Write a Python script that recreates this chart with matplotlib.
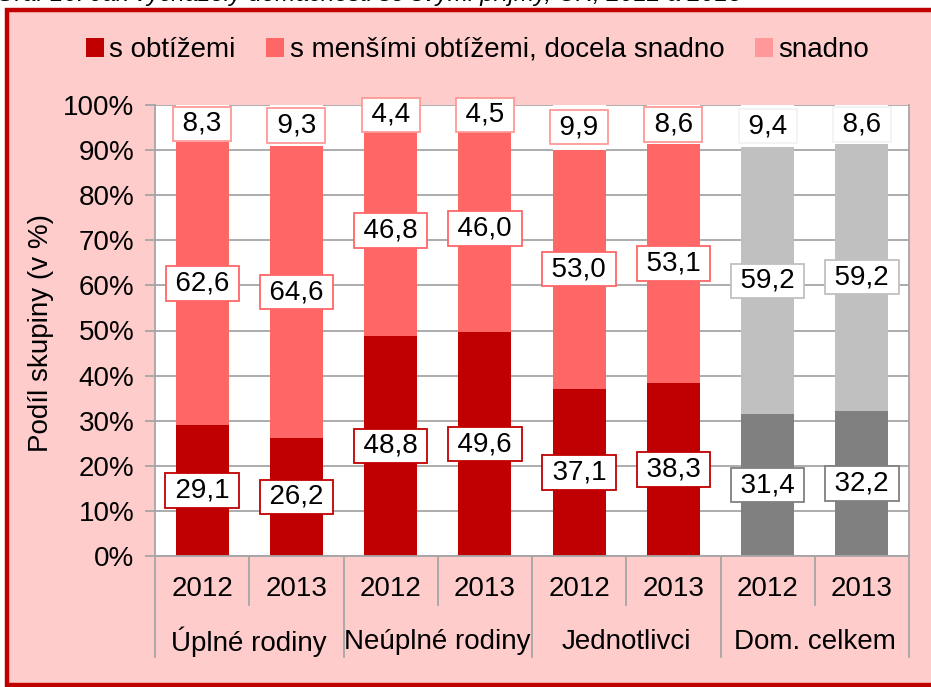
import matplotlib.pyplot as plt
from matplotlib.patches import Rectangle, Patch

plt.rcParams['font.family'] = ['Liberation Sans', 'DejaVu Sans']

groups = ['Úplné rodiny', 'Neúplné rodiny', 'Jednotlivci', 'Dom. celkem']
years = ['2012', '2013']
s_obtizemi = [29.1, 26.2, 48.8, 49.6, 37.1, 38.3, 31.4, 32.2]
s_mensimi = [62.6, 64.6, 46.8, 46.0, 53.0, 53.1, 59.2, 59.2]
snadno = [8.3, 9.3, 4.4, 4.5, 9.9, 8.6, 9.4, 8.6]
series_names = ['s obtížemi', 's menšími obtížemi, docela snadno', 'snadno']

red_cols = ['#C00000', '#FF6666', '#FF9999']
grey_cols = ['#808080', '#C0C0C0', '#F2F2F2']

fig = plt.figure(figsize=(9.31, 6.87), dpi=100)
fig.patch.set_facecolor('white')
W, H = 931, 687

# pink frame with dark red border (drawn in a background axes)
bg = fig.add_axes([0, 0, 1, 1], zorder=-5)
bg.set_xlim(0, W)
bg.set_ylim(H, 0)
bg.axis('off')
bg.add_patch(Rectangle((7, 10), 940, 675, facecolor='#FFCCCC', edgecolor='#C00000', linewidth=3.2))

# cut-off caption at the very top
fig.text(-0.004, 1 - 1.5 / H, 'Graf 16: Jak vycházely domácnosti se svými příjmy, ČR, 2012 a 2013',
         fontsize=17.5, style='italic', ha='left', va='baseline')

ax = fig.add_axes([155 / W, (H - 556) / H, 754 / W, 451 / H])
ax.set_facecolor('white')

n = len(s_obtizemi)
x = list(range(n))
bw = 0.56
fs = 20

for i in x:
    cols = grey_cols if i >= 6 else red_cols
    b1 = s_obtizemi[i]
    b2 = s_mensimi[i]
    b3 = snadno[i]
    ax.bar(i, b1, bw, color=cols[0], zorder=2)
    ax.bar(i, b2, bw, bottom=b1, color=cols[1], zorder=2)
    ax.bar(i, b3, bw, bottom=b1 + b2, color='white', zorder=2)
    for val, center, ec in [(b1, b1 / 2, cols[0]), (b2, b1 + b2 / 2, cols[1]),
                            (b3, b1 + b2 + b3 / 2, cols[2])]:
        ax.text(i, center, '\u2009' + f'{val:.1f}'.replace('.', ',') + '\u2009', ha='center', va='center',
                fontsize=fs, zorder=4,
                bbox=dict(boxstyle='square,pad=0.15', facecolor='white', edgecolor=ec, linewidth=1.3))

ax.set_xlim(-0.5, n - 0.5)
ax.set_ylim(0, 100)
ax.set_yticks(range(0, 101, 10))
ax.set_yticklabels([f'{v}%' for v in range(0, 101, 10)], fontsize=fs)
ax.yaxis.grid(True, color='#A6A6A6', linewidth=1.3, zorder=1)
ax.set_axisbelow(True)
ax.tick_params(axis='y', length=7, width=1.3, color='#A6A6A6', pad=8)
ax.set_xticks([])
ax.spines['top'].set_visible(False)
for s in ['left', 'right', 'bottom']:
    ax.spines[s].set_color('#A6A6A6')
    ax.spines[s].set_linewidth(1.3)

# two-level category axis
tr = ax.get_xaxis_transform()
for i in x:
    ax.text(i, -0.074, years[i % 2], transform=tr, ha='center', va='center', fontsize=fs)
for g, name in enumerate(groups):
    ax.text(2 * g + 0.5, -0.19, name, transform=tr, ha='center', va='center', fontsize=fs)
for k in range(n + 1):
    pos = k - 0.5
    y_end = -0.224 if k % 2 == 0 else -0.109
    ax.plot([pos, pos], [0, y_end], transform=tr, color='#A6A6A6', linewidth=1.3, clip_on=False)

fig.text(41 / W, 1 - 333 / H, 'Podíl skupiny (v %)', rotation=90, ha='center', va='center', fontsize=fs)

handles = [Patch(facecolor=c) for c in red_cols]
fig.legend(handles, series_names, loc='center', bbox_to_anchor=(0.513, 1 - 50 / H), ncol=3,
           frameon=False, fontsize=fs, handlelength=0.65, handleheight=0.65,
           handletextpad=0.2, columnspacing=1.1, borderpad=0)

fig.savefig('out.png', dpi=100)
